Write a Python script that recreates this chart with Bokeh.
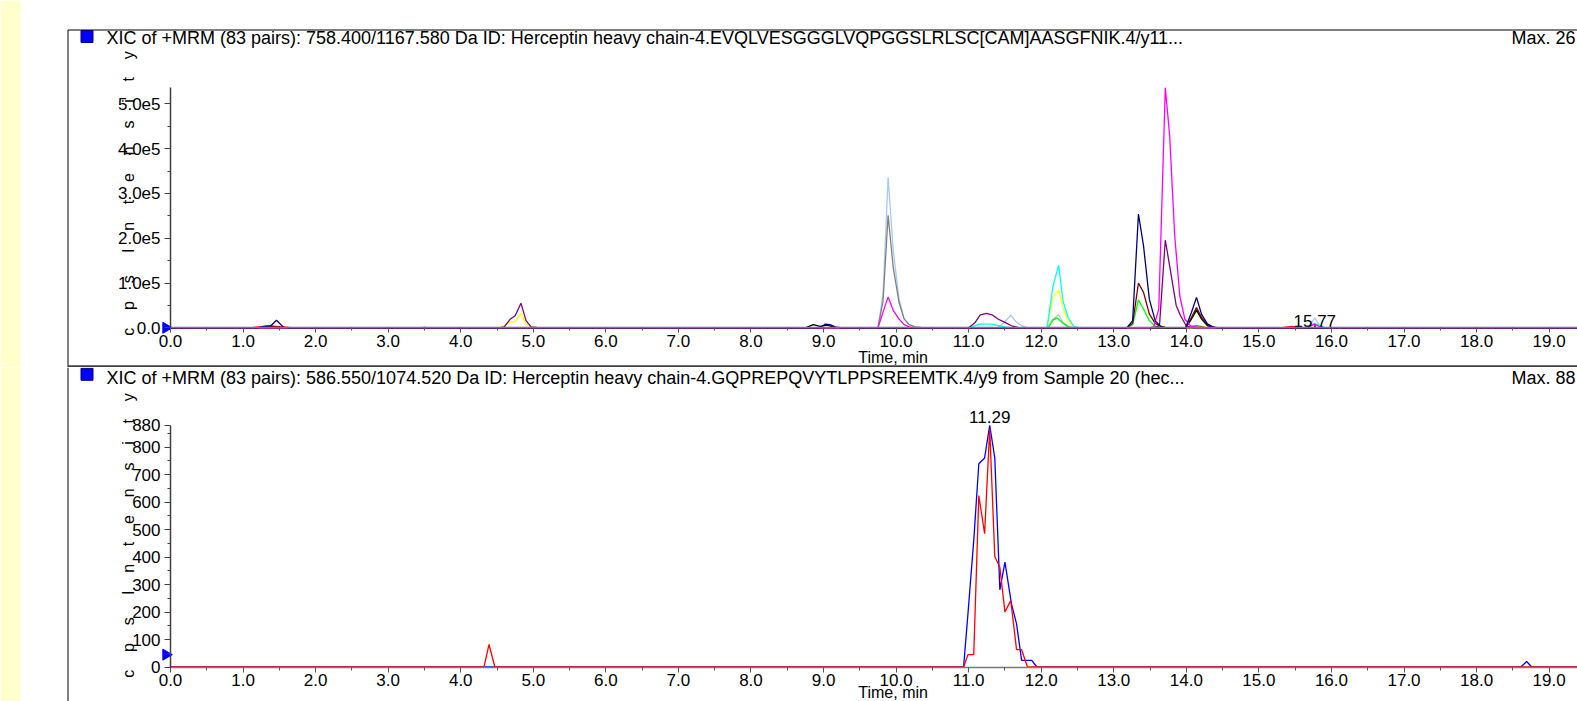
import math
from bokeh.plotting import figure
from bokeh.layouts import column
from bokeh.models import LinearAxis, FixedTicker, BoxAnnotation, Range1d
from bokeh.core.properties import value
from bokeh.embed import file_html
from bokeh.resources import INLINE

# ---------------------------------------------------------------- data
x_tick_values = [0.0, 1.0, 2.0, 3.0, 4.0, 5.0, 6.0, 7.0, 8.0, 9.0, 10.0,
                 11.0, 12.0, 13.0, 14.0, 15.0, 16.0, 17.0, 18.0, 19.0]
x_tick_labels = ["0.0", "1.0", "2.0", "3.0", "4.0", "5.0", "6.0", "7.0", "8.0", "9.0", "10.0",
                 "11.0", "12.0", "13.0", "14.0", "15.0", "16.0", "17.0", "18.0", "19.0"]
x_minor_values = [0.5, 1.5, 2.5, 3.5, 4.5, 5.5, 6.5, 7.5, 8.5, 9.5, 10.5,
                  11.5, 12.5, 13.5, 14.5, 15.5, 16.5, 17.5, 18.5, 19.5]
x_axis_end = 20.0

y1_tick_values = [0.0, 100000.0, 200000.0, 300000.0, 400000.0, 500000.0]
y1_tick_labels = ["0.0", "1.0e5", "2.0e5", "3.0e5", "4.0e5", "5.0e5"]
y1_minor_values = [50000.0, 150000.0, 250000.0, 350000.0, 450000.0]
y1_axis_max = 536000.0

y2_tick_values = [0.0, 100.0, 200.0, 300.0, 400.0, 500.0, 600.0, 700.0, 800.0, 880.0]
y2_tick_labels = ["0", "100", "200", "300", "400", "500", "600", "700", "800", "880"]
y2_minor_values = [50.0, 150.0, 250.0, 350.0, 450.0, 550.0, 650.0, 750.0, 850.0]
y2_axis_max = 880.0

title1 = "XIC of +MRM (83 pairs): 758.400/1167.580 Da ID: Herceptin heavy chain-4.EVQLVESGGGLVQPGGSLRLSC[CAM]AASGFNIK.4/y11..."
title2 = "XIC of +MRM (83 pairs): 586.550/1074.520 Da ID: Herceptin heavy chain-4.GQPREPQVYTLPPSREEMTK.4/y9 from Sample 20 (hec..."
max1_text = "Max. 26"
max2_text = "Max. 88"
x_label = "Time, min"
y_label = "c\u00a0\u00a0\u00a0\u00a0p\u00a0\u00a0\u00a0\u00a0s\u00a0\u00a0\u00a0\u00a0\u00a0I\u00a0\u00a0\u00a0\u00a0n\u00a0\u00a0\u00a0\u00a0t\u00a0\u00a0\u00a0\u00a0e\u00a0\u00a0\u00a0\u00a0n\u00a0\u00a0\u00a0\u00a0s\u00a0\u00a0\u00a0\u00a0i\u00a0\u00a0\u00a0\u00a0t\u00a0\u00a0\u00a0\u00a0y"

# panel 1 traces (time in min, intensity in cps)
lightblue_t = [0.0, 9.75, 9.82, 9.89, 9.96, 10.04, 10.11, 10.18, 10.26, 10.40, 11.40, 11.48, 11.58,
               11.66, 11.73, 11.82, 15.62, 15.70, 15.77, 15.84, 15.92, 19.90]
lightblue_v = [0, 0, 75000, 336000, 173000, 65000, 20000, 7000, 2000, 0, 0, 10000, 28000,
               12000, 5000, 0, 0, 6000, 22000, 5000, 0, 0]
gray_t = [0.0, 9.75, 9.82, 9.89, 9.96, 10.04, 10.11, 10.18, 10.26, 10.40, 19.90]
gray_v = [0, 0, 60000, 251000, 135000, 57000, 20000, 7000, 2000, 0, 0]
magenta_t = [0.0, 9.75, 9.82, 9.89, 9.96, 10.04, 10.11, 10.18, 10.26, 13.48, 13.55, 13.62, 13.71,
             13.77, 13.84, 13.91, 13.98, 14.06, 14.20, 15.62, 15.70, 15.77, 15.84, 15.92, 19.90]
magenta_v = [0, 0, 35000, 69000, 39000, 20000, 7000, 2000, 0, 0, 2000, 42000, 536000,
             429000, 205000, 71000, 19000, 4000, 0, 0, 3000, 8000, 2000, 0, 0]
purple_t = [0.0, 4.52, 4.60, 4.68, 4.75, 4.83, 4.90, 4.97, 5.05, 5.50, 11.00, 11.09, 11.16, 11.25,
            11.32, 11.41, 11.50, 11.59, 11.68, 11.80, 13.55, 13.63, 13.71, 13.77, 13.86, 13.92,
            14.00, 14.10, 19.90]
purple_v = [0, 0, 2000, 19000, 27000, 55000, 16000, 2000, 1000, 0, 0, 12000, 29000, 32000,
            29000, 19000, 12000, 4500, 1000, 0, 0, 5000, 196000, 138000, 50000, 27000,
            4000, 0, 0]
cyan_t = [0.0, 11.00, 11.15, 11.32, 11.43, 11.50, 11.58, 12.08, 12.16, 12.24, 12.30, 12.37, 12.45,
          12.52, 15.62, 15.77, 15.92, 19.90]
cyan_v = [0, 0, 8000, 8000, 4000, 2000, 0, 0, 91000, 140000, 60000, 23000, 3000,
          0, 0, 10000, 0, 0]
yellow_t = [0.0, 4.55, 4.65, 4.75, 4.83, 4.90, 4.97, 5.05, 12.08, 12.16, 12.24, 12.30, 12.37,
            12.45, 12.52, 19.90]
yellow_v = [0, 0, 12000, 14000, 32000, 9000, 1000, 0, 0, 68000, 84000, 45000, 16000,
            1000, 0, 0]
silver_t = [0.0, 12.08, 12.16, 12.24, 12.30, 12.37, 12.45, 19.90]
silver_v = [0, 0, 19000, 29000, 12000, 4000, 0, 0]
lime_t = [0.0, 12.10, 12.16, 12.22, 12.30, 12.37, 12.45, 13.18, 13.26, 13.34, 13.41, 13.49, 13.57,
          13.65, 13.99, 14.07, 14.14, 14.21, 14.29, 14.40, 19.90]
lime_v = [0, 0, 17000, 22000, 10000, 2000, 0, 0, 7000, 62000, 42000, 16000, 4000,
          0, 0, 19000, 38000, 19000, 5000, 0, 0]
navy_t = [0.0, 1.20, 1.29, 1.38, 1.46, 1.56, 1.65, 8.95, 9.02, 9.09, 9.16, 9.25, 13.18, 13.26,
          13.34, 13.41, 13.49, 13.57, 13.64, 13.72, 13.99, 14.07, 14.14, 14.21, 14.29, 14.36,
          14.45, 19.90]
navy_v = [0, 0, 3000, 4000, 17000, 1000, 0, 0, 8000, 7000, 2000, 0, 0, 16000,
          254000, 183000, 64000, 16000, 4000, 0, 0, 34000, 68000, 30000, 9000, 2000,
          0, 0]
maroon_t = [0.0, 1.20, 1.40, 1.60, 13.18, 13.26, 13.34, 13.41, 13.49, 13.57, 13.66, 13.75, 13.99,
            14.07, 14.14, 14.21, 14.29, 14.40, 19.90]
maroon_v = [0, 0, 3000, 0, 0, 10000, 100000, 79000, 31000, 10000, 2000, 0, 0,
            23000, 45000, 23000, 7000, 0, 0]
black_t = [0.0, 8.75, 8.86, 8.95, 9.05, 9.15, 9.25, 13.99, 14.07, 14.14, 14.21, 14.29, 14.40, 19.90]
black_v = [0, 0, 7000, 3000, 6000, 1000, 0, 0, 20000, 40000, 20000, 5000, 0, 0]
red_t = [0.0, 1.10, 1.35, 1.55, 1.70, 3.40, 3.50, 3.60, 15.30, 15.45, 15.60, 15.70, 19.90]
red_v = [0, 0, 4000, 2000, 0, 0, 1000, 0, 0, 3000, 1000, 0, 0]
olive_t = [0.0, 13.99, 14.14, 14.30, 19.90]
olive_v = [0, 0, 5000, 0, 0]

# panel 2 traces
blue2_t = [0.0, 10.93, 10.99, 11.07, 11.14, 11.22, 11.29, 11.36, 11.43, 11.50, 11.59, 11.66,
           11.73, 11.87, 11.94, 18.61, 18.69, 18.76, 19.90]
blue2_v = [0, 0, 193, 460, 740, 761, 880, 761, 281, 382, 230, 157,
           24, 24, 0, 0, 20, 0, 0]
red2_t = [0.0, 4.32, 4.39, 4.47, 10.93, 10.99, 11.07, 11.14, 11.22, 11.29, 11.36, 11.43, 11.50,
          11.58, 11.66, 11.73, 11.81, 19.90]
red2_v = [0, 0, 82, 0, 0, 45, 45, 624, 485, 867, 402, 363, 200,
          242, 63, 63, 0, 0]

peak1_rt = 15.77
peak1_v = 0.0
peak2_rt = 11.29
peak2_v = 880.0
threshold1_v = 0.0
threshold2_v = 45.0

panel1_series = [
    (lightblue_t, lightblue_v, "#A6CAF0"), (gray_t, gray_v, "#808080"),
    (silver_t, silver_v, "#C0C0C0"), (yellow_t, yellow_v, "#FFFF00"),
    (cyan_t, cyan_v, "#00FFFF"), (lime_t, lime_v, "#00FF00"),
    (olive_t, olive_v, "#808000"), (red_t, red_v, "#FF0000"),
    (black_t, black_v, "#000000"), (maroon_t, maroon_v, "#800000"),
    (purple_t, purple_v, "#800080"), (magenta_t, magenta_v, "#FF00FF"),
    (navy_t, navy_v, "#000080"),
]
panel2_series = [(blue2_t, blue2_v, "#0000FF"), (red2_t, red2_v, "#FF0000")]

# ---------------------------------------------------------------- geometry
FONT = "Liberation Sans"
FIG_W = 1577
PX_PER_MIN = 72.56
AXIS_X_PAGE = 170.0


def t_of(px):
    return (px - AXIS_X_PAGE) / PX_PER_MIN


def make_v_of(zero_py, px_per_unit):
    return lambda py: (zero_py - py) / px_per_unit


def make_panel(top, height, v_of, y_ticks, y_minor, y_labels, y_max, series, title, max_text,
               title_mid_py, square_py, ylabel_center_py, threshold_v, peak_rt, peak_v, peak_off,
               top_line, add_bottom_line, xlabel_mid_py):
    p = figure(width=FIG_W, height=height,
               x_range=Range1d(t_of(0), t_of(FIG_W)),
               y_range=Range1d(v_of(top + height), v_of(top)),
               x_axis_type=None, y_axis_type=None, toolbar_location=None,
               output_backend="svg", min_border=0, outline_line_color=None,
               background_fill_color="white", border_fill_color="white")

    p.add_layout(BoxAnnotation(right=t_of(20), fill_color="#FFFFCC", fill_alpha=1.0,
                               line_color=None, level="underlay"))

    for ts, vs, col in series:
        p.line(ts, vs, line_color=col, line_width=1.3)

    xaxis = LinearAxis(fixed_location=0, bounds=(0, x_axis_end), level="overlay",
                       ticker=FixedTicker(ticks=x_tick_values, minor_ticks=x_minor_values),
                       major_label_overrides=dict(zip(x_tick_values, x_tick_labels)),
                       axis_line_color="#7a7a7a", axis_line_width=1.6,
                       major_tick_line_color="#555555", minor_tick_line_color="#555555",
                       major_tick_in=0, major_tick_out=5, minor_tick_in=0, minor_tick_out=3,
                       major_label_text_font=FONT, major_label_text_font_size="17px",
                       major_label_text_color="black", major_label_standoff=2)
    p.add_layout(xaxis, "below")

    yaxis = LinearAxis(fixed_location=0, bounds=(0, y_max), level="overlay",
                       ticker=FixedTicker(ticks=y_ticks, minor_ticks=y_minor),
                       major_label_overrides=dict(zip(y_ticks, y_labels)),
                       axis_line_color="#404040", axis_line_width=1.5,
                       major_tick_line_color="#404040", minor_tick_line_color="#404040",
                       major_tick_in=0, major_tick_out=6, minor_tick_in=0, minor_tick_out=3,
                       major_label_text_font=FONT, major_label_text_font_size="17px",
                       major_label_text_color="black", major_label_standoff=4)
    p.add_layout(yaxis, "left")

    # x axis title, centred under the 0-20 min axis
    p.text(x=[x_axis_end / 2.0], y=[v_of(xlabel_mid_py)], text=[x_label], x_offset=-3,
           text_font=value(FONT), text_font_size="16px", text_align="center",
           text_baseline="middle", text_color="black")

    # panel frame lines
    left_t = t_of(67.5)
    p.segment(x0=[left_t], y0=[v_of(top + height)], x1=[left_t], y1=[v_of(top_line)],
              line_color="black", line_width=1)
    if top_line > top:
        p.segment(x0=[left_t], y0=[v_of(top_line)], x1=[21.0], y1=[v_of(top_line)],
                  line_color="black", line_width=1)
    if add_bottom_line:
        p.segment(x0=[left_t], y0=[v_of(top + height - 1.2)], x1=[21.0], y1=[v_of(top + height - 1.2)],
                  line_color="#404040", line_width=2)

    # header
    p.scatter(x=[t_of(86.5)], y=[v_of(square_py)], marker="square", size=12,
              fill_color="#0000FF", line_color="#00007F")
    p.text(x=[t_of(106)], y=[v_of(title_mid_py)], text=[title], text_font=value(FONT),
           text_font_size="18px", text_align="left", text_baseline="middle", text_color="black")
    p.text(x=[t_of(1511)], y=[v_of(title_mid_py)], text=[max_text], text_font=value(FONT),
           text_font_size="18px", text_align="left", text_baseline="middle", text_color="black")

    # rotated y label
    p.text(x=[t_of(127.5)], y=[v_of(ylabel_center_py)], text=[y_label], angle=math.pi / 2,
           text_font=value(FONT), text_font_size="16px", text_align="center",
           text_baseline="middle", text_color="black")

    # threshold marker on the y axis
    p.scatter(x=[t_of(165.5)], y=[threshold_v], marker="triangle", angle=-math.pi / 2, size=11,
              fill_color="#0000FF", line_color="#0000FF")

    # peak label
    p.text(x=[peak_rt], y=[peak_v], text=["%.2f" % peak_rt], text_font=value(FONT),
           text_font_size="17px", text_align="center", text_baseline="middle",
           y_offset=peak_off, text_color="black")
    return p


v1 = make_v_of(327.3, 44.8 / 100000.0)
v2 = make_v_of(666.5, 0.2747)

p1 = make_panel(0.0, 367, v1, y1_tick_values, y1_minor_values, y1_tick_labels, y1_axis_max,
                panel1_series, title1, max1_text, 37.6, 36.0, 193.0, threshold1_v,
                peak1_rt, peak1_v, -7, 29.5, True, 357.3)
p2 = make_panel(367.0, 334, v2, y2_tick_values, y2_minor_values, y2_tick_labels, y2_axis_max,
                panel2_series, title2, max2_text, 377.2, 373.8, 535.0, threshold2_v,
                peak2_rt, peak2_v, -8, 367.0, False, 691.5)

layout = column(p1, p2, spacing=0)
open("out.html", "w").write(file_html(layout, INLINE))
